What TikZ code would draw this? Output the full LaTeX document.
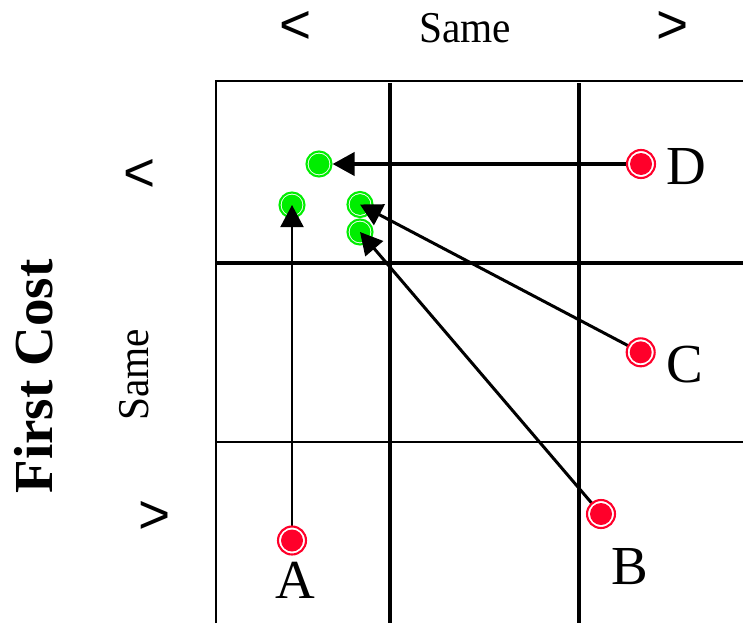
\documentclass[tikz,border=0pt]{standalone}
\usepackage{fontspec}
\setmainfont{Liberation Serif}
\newfontfamily\symfont{Liberation Sans}
\usetikzlibrary{arrows.meta}
\definecolor{dotred}{RGB}{255,0,42}
\definecolor{dotgreen}{RGB}{0,238,0}
\begin{document}
\begin{tikzpicture}[x=1pt,y=-1pt,
  gridthin/.style={line width=2pt},
  gridthick/.style={line width=4pt},
  before/.style={circle,draw=dotred,fill=white,line width=2.1pt,minimum size=28pt,inner sep=0pt,
    path picture={\fill[dotred] (path picture bounding box.center) circle (11pt);}},
  after/.style={circle,draw=dotgreen,fill=white,line width=2.1pt,minimum size=25pt,inner sep=0pt,
    path picture={\fill[dotgreen] (path picture bounding box.center) circle (10.4pt);}},
  move/.style={-{Triangle[length=22pt,width=23pt]}},
  letter/.style={inner sep=0pt,font=\fontsize{55}{60}\selectfont},
  axislabel/.style={inner sep=0pt,font=\fontsize{44}{48}\selectfont},
  cmp/.style={inner sep=0pt,font=\symfont\fontsize{55}{60}\selectfont},
]
\useasboundingbox (0,0) rectangle (743,623);

% grid
\draw[gridthin] (216,623) -- (216,80.7) -- (743,80.7);
\draw[gridthin] (217,442) -- (743,442);
\draw[gridthick] (217,262.7) -- (743,262.7);
\draw[gridthick] (390,83) -- (390,623);
\draw[gridthick] (579,83) -- (579,623);

% axis labels
\node[cmp] (tl) at (296,27.5) {<};
\node[axislabel] (ts) at (465,28) {\scalebox{0.94}[1]{Same}};
\node[cmp] (tr) at (673,27.5) {>};
\node[cmp] (lu) at (139.5,175.5) {<};
\node[axislabel,rotate=90] (ls) at (134,375) {\scalebox{0.94}[1]{Same}};
\node[cmp] (ld) at (155,517) {>};
\node[inner sep=0pt,font=\bfseries\fontsize{55}{60}\selectfont,rotate=90] (fc) at (34,376.5) {First Cost};

% improved positions
\node[after] (gd) at (319,164) {};
\node[after] (ga) at (292,205) {};
\node[after] (gc) at (360,204.5) {};
\node[after] (gb) at (360,232) {};

% original positions
\coordinate (pa) at (292,540.5);
\coordinate (pb) at (601,514);
\coordinate (pc) at (640.7,352.3);
\coordinate (pd) at (641,164);

% moves
\draw[move,line width=4pt] (pd) -- (gd);
\draw[move,line width=2pt] (pa) -- (ga.center);
\draw[move,line width=3pt] (pc) -- (gc.center);
\draw[move,line width=3pt] (pb) -- (gb.center);

\node[before] (a) at (pa) {};
\node[before] (b) at (pb) {};
\node[before] (c) at (pc) {};
\node[before] (d) at (pd) {};

\node[letter] (la) at (295,580) {A};
\node[letter] (lb) at (630,567) {B};
\node[letter] (lc) at (685,365) {C};
\node[letter] (ld2) at (686,167) {D};
\end{tikzpicture}
\end{document}
